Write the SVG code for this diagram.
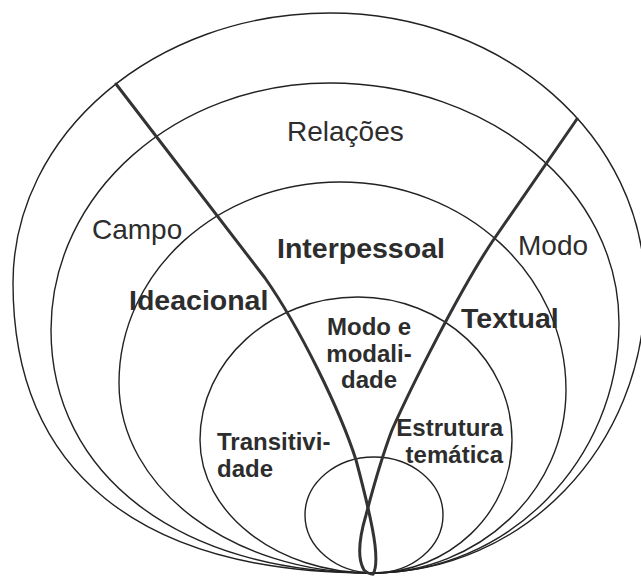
<svg xmlns="http://www.w3.org/2000/svg" width="641" height="576" viewBox="0 0 641 576">
<style>
.ring{fill:none;stroke:#222;stroke-width:1.4}
.div{fill:none;stroke:#333;stroke-width:3;stroke-linecap:round;stroke-linejoin:round}
.t{font-family:"Liberation Sans",Arial,sans-serif;fill:#2d2d2d}
.reg{font-size:28px}
.big{font-size:28.5px;font-weight:bold}
.sm{font-size:24px;font-weight:bold}
</style>
<rect width="641" height="576" fill="#fff"/>
<g id="contexto">
<path class="ring" d="M372,573 C139,573 13,471 13,283 C13,134 155,13 330,13 C504,13 645,137 645,290 C645,446 523,573 372,573 Z"/>
</g>
<g id="registro">
<path class="ring" d="M372,573 C180,573 51,475 51,330 C51,193 176,83 330,83 C490,83 619,190 619,323 C619,461 508,573 372,573 Z"/>
</g>
<g id="metafuncoes">
<path class="ring" d="M372,573 C232,573 119,488 119,383 C119,272 218,182 340,182 C465,182 566,275 566,390 C566,491 479,573 372,573 Z"/>
</g>
<g id="gramatica">
<path class="ring" d="M372,573 C277,573 200,513 200,440 C200,361 271,297 358,297 C443,297 512,361 512,440 C512,513 449,573 372,573 Z"/>
</g>
<g id="nucleo">
<ellipse class="ring" cx="374" cy="515" rx="69" ry="58"/>
</g>
<g id="connectors">
<path class="div" d="M116,84 L265,278 C300,328 340,410 356,460 C364,490 372,520 375,545 C377,563 375,571 373,574"/>
<path class="div" d="M577,119 L492,242 C460,290 412,385 392,430 C380,462 372,492 366,515 C358,542 358,560 364,570 Q368,574 373,574"/>
</g>
<g id="labels">
<text class="t reg" x="287" y="141">Relações</text>
<text class="t reg" x="92" y="239">Campo</text>
<text class="t big" x="277" y="258">Interpessoal</text>
<text class="t reg" x="518" y="255">Modo</text>
<text class="t big" x="129" y="310">Ideacional</text>
<text class="t big" x="461" y="328">Textual</text>
<text class="t sm" x="369" y="335" text-anchor="middle">Modo e</text>
<text class="t sm" x="369" y="362" text-anchor="middle">modali-</text>
<text class="t sm" x="369" y="388" text-anchor="middle">dade</text>
<text class="t sm" x="217" y="450">Transitivi-</text>
<text class="t sm" x="217" y="477">dade</text>
<text class="t sm" x="503" y="436" text-anchor="end">Estrutura</text>
<text class="t sm" x="503" y="463" text-anchor="end">temática</text>
</g>
</svg>
